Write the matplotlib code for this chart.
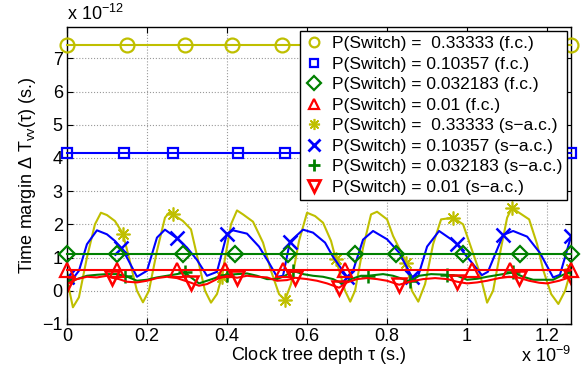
import numpy as np
import matplotlib
matplotlib.use("Agg")
import matplotlib.pyplot as plt

plt.rcParams['font.family'] = ['Liberation Sans', 'DejaVu Sans']

# x in units of 1e-9 s, y in units of 1e-12 s
X_MAX = 1.26

probs = ["0.33333", "0.10357", "0.032183", "0.01"]
colors = ["#bfbf00", "#0000ff", "#008000", "#ff0000"]

# full-chip (f.c.) margins: constant levels, marker positions along x
fc_level = [7.4, 4.15, 1.11, 0.61]
fc_marks = [
    [0, 0.15, 0.295, 0.4125, 0.5375, 0.68, 0.83, 0.97, 1.12, 1.26],
    [0, 0.1425, 0.265, 0.4275, 0.545, 0.70, 0.85, 0.98, 1.12, 1.26],
    [0, 0.125, 0.29, 0.42, 0.5525, 0.72, 0.8225, 0.99, 1.1325, 1.26],
    [0, 0.125, 0.275, 0.395, 0.54, 0.695, 1.0125, 1.1075, 1.26],
]
fc_markers = ["o", "s", "D", "^"]

# semi-adaptive clocking (s-a.c.) margins
yel_x = [0, 0.015, 0.03, 0.05, 0.07, 0.085, 0.1, 0.12, 0.14, 0.155, 0.175, 0.19,
         0.205, 0.225, 0.245, 0.255, 0.265, 0.29, 0.31, 0.33, 0.345, 0.36, 0.375,
         0.387, 0.41, 0.425, 0.44, 0.465, 0.49, 0.51, 0.53, 0.545, 0.56, 0.58, 0.6,
         0.62, 0.64, 0.66, 0.672, 0.695, 0.708, 0.72, 0.74, 0.76, 0.775, 0.8,
         0.815, 0.848, 0.862, 0.878, 0.895, 0.915, 0.935, 0.965, 0.99, 1.01, 1.03,
         1.05, 1.065, 1.085, 1.1, 1.112, 1.13, 1.155, 1.175, 1.19, 1.21, 1.228,
         1.245, 1.26]
yel_y = [0.35, -0.5, -0.2, 1.0, 2.0, 2.35, 2.28, 2.1, 1.72, 1.0, 0.0, -0.35,
         0.0, 1.2, 2.2, 2.35, 2.3, 2.1, 1.85, 0.8, 0.0, -0.36, -0.1,
         0.42, 2.0, 2.42, 2.3, 2.08, 1.45, 0.6, -0.1, -0.28, 0.2, 1.5, 2.35,
         2.25, 2.05, 1.5, 0.95, 0.0, -0.33, 0.0, 1.3, 2.3, 2.38, 2.15,
         1.65, 0.85, 0.0, -0.33, 0.2, 1.4, 2.15, 2.2, 2.0, 1.3, 0.6,
         -0.36, 0.0, 1.3, 2.2, 2.5, 2.35, 2.15, 1.4, 0.63, -0.1, -0.4,
         0.0, 0.65]
yel_marks = [0, 8, 16, 23, 31, 38, 47, 53, 61, 69]

blu_x = [0, 0.0125, 0.03, 0.05, 0.075, 0.1, 0.12, 0.135, 0.15, 0.175, 0.2, 0.225,
         0.245, 0.275, 0.3, 0.325, 0.35, 0.375, 0.4, 0.415, 0.45, 0.48, 0.505,
         0.525, 0.54, 0.5575, 0.59, 0.615, 0.645, 0.665, 0.7, 0.715, 0.74, 0.765,
         0.8, 0.83, 0.862, 0.878, 0.9, 0.93, 0.96, 0.975, 1.0, 1.037, 1.052, 1.09,
         1.115, 1.15, 1.182, 1.215, 1.232, 1.26]
blu_y = [0.42, 0.33, 0.6, 1.4, 1.82, 1.7, 1.5, 1.3, 1.0, 0.42, 0.6, 1.6,
         1.84, 1.58, 1.3, 0.93, 0.45, 0.57, 1.72, 1.82, 1.72, 1.33, 0.84,
         0.42, 0.45, 1.48, 1.84, 1.75, 1.45, 1.02, 0.42, 0.6, 1.54, 1.8,
         1.55, 1.15, 0.42, 0.45, 1.33, 1.8, 1.55, 1.4, 1.02, 0.47, 0.57, 1.68,
         1.8, 1.63, 1.14, 0.4, 0.48, 1.65]
blu_marks = [0, 7, 13, 18, 25, 30, 36, 41, 45, 51]

grn_x = [0, 0.025, 0.05, 0.075, 0.1, 0.125, 0.145, 0.175, 0.2, 0.225, 0.25, 0.275,
         0.295, 0.31, 0.33, 0.35, 0.375, 0.4, 0.425, 0.45, 0.475, 0.5, 0.525,
         0.545, 0.565, 0.59, 0.615, 0.64, 0.665, 0.69, 0.71, 0.735, 0.7525, 0.79,
         0.815, 0.84, 0.8575, 0.88, 0.91, 0.95, 0.975, 1.0, 1.025, 1.05, 1.08,
         1.115, 1.14, 1.165, 1.19, 1.215, 1.24, 1.26]
grn_y = [0.3, 0.35, 0.45, 0.48, 0.5, 0.5, 0.45, 0.3, 0.33, 0.4, 0.45, 0.5,
         0.55, 0.4, 0.22, 0.3, 0.4, 0.48, 0.5, 0.52, 0.45, 0.35, 0.35,
         0.45, 0.6, 0.5, 0.45, 0.42, 0.35, 0.2, 0.35, 0.45, 0.45, 0.5,
         0.45, 0.35, 0.28, 0.45, 0.5, 0.48, 0.45, 0.33, 0.36, 0.42, 0.48,
         0.55, 0.42, 0.33, 0.33, 0.33, 0.48, 0.57]
grn_marks = [0, 6, 12, 17, 24, 32, 36, 39, 45, 51]

red_x = [0, 0.025, 0.05, 0.075, 0.1, 0.1125, 0.13, 0.15, 0.175, 0.2, 0.225, 0.25,
         0.275, 0.295, 0.31, 0.33, 0.35, 0.375, 0.4, 0.425, 0.45, 0.475, 0.5,
         0.525, 0.55, 0.57, 0.6, 0.625, 0.65, 0.68, 0.7, 0.725, 0.75, 0.775, 0.8,
         0.83, 0.86, 0.89, 0.92, 0.95, 0.975, 1.0, 1.025, 1.05, 1.08, 1.105, 1.13,
         1.155, 1.18, 1.2, 1.23, 1.26]
red_y = [0.2, 0.35, 0.42, 0.4, 0.45, 0.39, 0.35, 0.27, 0.25, 0.3, 0.38, 0.42,
         0.38, 0.3, 0.24, 0.15, 0.2, 0.35, 0.45, 0.39, 0.45, 0.42, 0.4,
         0.3, 0.32, 0.39, 0.35, 0.3, 0.22, 0.09, 0.25, 0.35, 0.38, 0.35, 0.3,
         0.18, 0.28, 0.35, 0.38, 0.35, 0.27, 0.22, 0.25, 0.3, 0.38, 0.42, 0.39,
         0.3, 0.24, 0.22, 0.3, 0.42]
red_marks = [0, 5, 14, 19, 25, 29, 35, 40, 46, 51]

sac = [(yel_x, yel_y, yel_marks), (blu_x, blu_y, blu_marks),
       (grn_x, grn_y, grn_marks), (red_x, red_y, red_marks)]
# asterisk, cross, plus, down-triangle
sac_markers = [(8, 2, 0), "x", "+", "v"]

fig = plt.figure(figsize=(5.87, 3.74), dpi=100)
ax = fig.add_axes([0.114, 0.134, 0.859, 0.794])

for (x, y, mk), c, m in zip(sac, colors, sac_markers):
    mew = 1.2 if m == (8, 2, 0) else 1.8
    ax.plot(x, y, color=c, lw=1.5, marker=m, markevery=mk, ms=10,
            mew=mew, mfc='none', zorder=2)

for lvl, xs, c, m in zip(fc_level, fc_marks, colors, fc_markers):
    ms = 7 if m == "s" else (8 if m == "D" else 10)
    ax.plot(xs, [lvl] * len(xs), color=c, lw=1.5, marker=m, ms=ms,
            mew=1.6, mfc='none', zorder=3, clip_on=False)

# legend shows markers only
handles = []
for p, c, m in zip(probs, colors, fc_markers):
    sp = "  " if p == "0.33333" else " "
    h, = ax.plot([], [], ls='none', marker=m, color=c, mfc='none', mew=1.6,
                 ms=7 if m != "s" else 6, label=f"P(Switch) ={sp}{p} (f.c.)")
    handles.append(h)
for p, c, m in zip(probs, colors, sac_markers):
    sp = "  " if p == "0.33333" else " "
    mew = 1.2 if m == (8, 2, 0) else 2
    h, = ax.plot([], [], ls='none', marker=m, color=c, mfc='none', mew=mew,
                 ms=8, label=f"P(Switch) ={sp}{p} (s\u2212a.c.)")
    handles.append(h)

leg = ax.legend(handles=handles, loc='upper right', bbox_to_anchor=(0.992, 0.987),
                borderaxespad=0, fancybox=False, fontsize=12.5, handlelength=1.0,
                handletextpad=0.5, labelspacing=0.31, borderpad=0.3,
                framealpha=1)
leg.get_frame().set_edgecolor('black')
leg.get_frame().set_linewidth(1.0)
leg.set_zorder(5)

ax.set_xlim(0, X_MAX)
ax.set_ylim(-1, 7.95)
ax.set_xticks([0, 0.2, 0.4, 0.6, 0.8, 1, 1.2])
ax.set_xticklabels(["0", "0.2", "0.4", "0.6", "0.8", "1", "1.2"])
ax.set_yticks(range(-1, 8))
ax.grid(True, ls=':', color='#999999', lw=0.8)
ax.tick_params(direction='in', top=True, right=True, labelsize=13, length=4, pad=3)
for s in ax.spines.values():
    s.set_linewidth(1.0)

ax.set_xlabel(r"Clock tree depth $\mathregular{\tau}$ (s.)", fontsize=13, labelpad=0)
ax.set_ylabel(r"Time margin $\mathregular{\Delta}$ T$_\mathregular{vv}$($\mathregular{\tau}$) (s.)",
              fontsize=13, labelpad=3)
ax.text(0.0, 1.01, r"x 10$^\mathregular{-12}$", transform=ax.transAxes,
        fontsize=13, ha='left', va='bottom')
ax.text(1.0, -0.075, r"x 10$^\mathregular{-9}$", transform=ax.transAxes,
        fontsize=13, ha='right', va='top')

fig.savefig("out.png", dpi=100)
